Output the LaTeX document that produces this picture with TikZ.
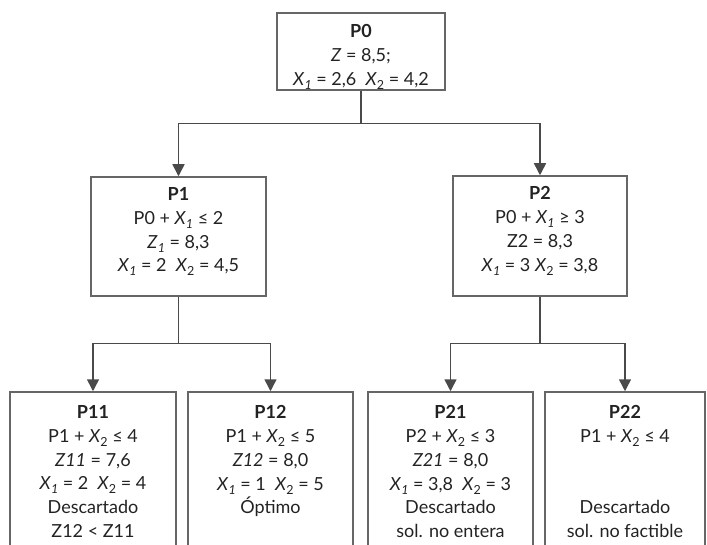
\documentclass[tikz,border=0pt]{standalone}
\usepackage{fontspec}
\setmainfont{Lato}
\usetikzlibrary{arrows.meta,calc}
\definecolor{linec}{HTML}{4A4A4A}
\definecolor{boxc}{HTML}{666666}
\definecolor{txtc}{HTML}{222222}
\newcommand\sbs[1]{\raisebox{-0.45ex}{\fontsize{12.5}{12.5}\selectfont #1}}
\newcommand\xv[1]{\textit{X}\sbs{\textit{#1}}}
\begin{document}
\begin{tikzpicture}[x=1pt,y=-1pt,
  box/.style={draw=boxc, line width=1.5pt, rectangle, inner sep=0pt},
  txt/.style={anchor=north, align=center, inner sep=0pt, text=txtc,
    font={\fontsize{18}{23.8}\selectfont\lineskiplimit=-20pt}},
  arr/.style={draw=linec, line width=1.5pt, -{Triangle[length=12pt,width=12pt]}},
  conn/.style={draw=linec, line width=1.5pt}]
\useasboundingbox (0,0) rectangle (707,545);
\clip (0,0) rectangle (707,545);
% boxes
\node[box, minimum width=168, minimum height=77] (p0) at (361,51.5) {};
\node[box, minimum width=175, minimum height=119] (p1) at (178.5,236.5) {};
\node[box, minimum width=174, minimum height=120] (p2) at (540,236) {};
\node[box, minimum width=166, minimum height=200] (p11) at (93,492) {};
\node[box, minimum width=165, minimum height=200] (p12) at (270.5,492) {};
\node[box, minimum width=165, minimum height=200] (p21) at (450.5,492) {};
\node[box, minimum width=160, minimum height=200] (p22) at (625,492) {};
% texts
\node[txt] (t0) at ($(p0.north)+(0,12)$) {\textbf{P0}\\ \textit{Z} = 8,5;\\ \xv{1} = 2,6\ \ \textit{X}\sbs{2} = 4,2};
\node[txt] (t1) at ($(p1.north)+(0,11)$) {\textbf{P1}\\ P0 + \xv{1} ≤ 2\\ \textit{Z}\sbs{\textit{1}} = 8,3\\ \xv{1} = 2\ \ \textit{X}\sbs{2} = 4,5};
\node[txt] (t2) at ($(p2.north)+(0,11)$) {\textbf{P2}\\ P0 + \xv{1} ≥ 3\\ Z2 = 8,3\\ \xv{1} = 3 \textit{X}\sbs{2} = 3,8};
\node[txt] (t11) at ($(p11.north)+(0,14)$) {\textbf{P11}\\ P1 + \textit{X}\sbs{2} ≤ 4\\ \textit{Z11} = 7,6\\ \xv{1} = 2\ \ \textit{X}\sbs{2} = 4\\ Descartado\\ Z12 < Z11};
\node[txt] (t12) at ($(p12.north)+(0,14)$) {\textbf{P12}\\ P1 + \textit{X}\sbs{2} ≤ 5\\ \textit{Z12} = 8,0\\ \xv{1} = 1\ \ \textit{X}\sbs{2} = 5\\ Óptimo};
\node[txt] (t21) at ($(p21.north)+(0,14)$) {\textbf{P21}\\ P2 + \textit{X}\sbs{2} ≤ 3\\ \textit{Z21} = 8,0\\ \xv{1} = 3,8\ \ \textit{X}\sbs{2} = 3\\ Descartado\\ sol. no entera};
\node[txt] (t22) at ($(p22.north)+(0,14)$) {\textbf{P22}\\ P1 + \textit{X}\sbs{2} ≤ 4\\ \strut\\ \strut\\ Descartado\\ sol. no factible};
% connectors
\coordinate (j0) at ($(p0.south)+(0,33)$);
\coordinate (j1) at ($(p1.south)+(0,47)$);
\coordinate (j2) at ($(p2.south)+(0,47)$);
\draw[conn] (p0.south) -- (j0);
\draw[arr] (j0) -| (p1.north);
\draw[arr] (j0) -| (p2.north);
\draw[conn] (p1.south) -- (j1);
\draw[arr] (j1) -| (p11.north);
\draw[arr] (j1) -| (p12.north);
\draw[conn] (p2.south) -- (j2);
\draw[arr] (j2) -| (p21.north);
\draw[arr] (j2) -| (p22.north);
\end{tikzpicture}
\end{document}
